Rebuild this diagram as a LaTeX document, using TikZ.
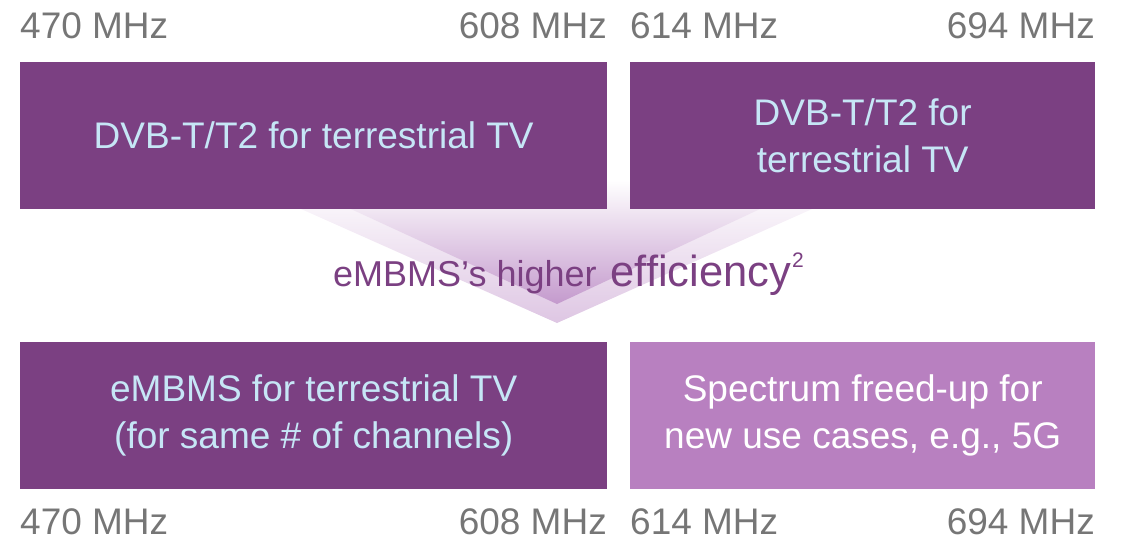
\documentclass[tikz,border=0pt]{standalone}
\usepackage{fontspec}
\setmainfont{Liberation Sans}
\definecolor{plum}{RGB}{123,64,130}
\definecolor{orchid}{RGB}{184,128,192}
\definecolor{paleblue}{RGB}{198,230,246}
\definecolor{freqgray}{RGB}{118,118,118}
\definecolor{shadeout}{RGB}{222,198,227}
\definecolor{shadein}{RGB}{196,154,205}
\begin{document}
\begin{tikzpicture}[x=1pt,y=-1pt,
  band/.style={rectangle, inner sep=0pt, anchor=north west},
  bandtext/.style={align=center, font=\fontsize{37}{47}\selectfont},
  freq/.style={text=freqgray, inner sep=0pt, font=\fontsize{37}{44}\selectfont}]
\useasboundingbox (0,0) rectangle (1122,541);

% transition chevron (two stacked shaded triangles)
\shade[top color=white, bottom color=shadeout]
  (236,180) -- (877,180) -- (557,323) -- cycle;
\shade[top color=white, bottom color=shadein]
  (288,180) -- (822,180) -- (557,304) -- cycle;

% spectrum bands
\node[band, fill=plum, minimum width=587pt, minimum height=147pt] (tl) at (20,62) {};
\node[band, fill=plum, minimum width=465pt, minimum height=147pt] (tr) at (630,62) {};
\node[band, fill=plum, minimum width=587pt, minimum height=147pt] (bl) at (20,342) {};
\node[band, fill=orchid, minimum width=465pt, minimum height=147pt] (br) at (630,342) {};

\node[bandtext, text=paleblue] (tlt) at (tl.center) {DVB-T/T2 for terrestrial TV};
\node[bandtext, text=paleblue] (trt) at (tr.center) {DVB-T/T2 for\\terrestrial TV};
\node[bandtext, text=paleblue] (blt) at (bl.center) {eMBMS for terrestrial TV\\(for same \# of channels)};
\node[bandtext, text=white] (brt) at (br.center) {Spectrum freed-up for\\new use cases, e.g., 5G};

% frequency limits
\node[freq, anchor=base west] (f1) at (20,38) {470 MHz};
\node[freq, anchor=base east] (f2) at (607,38) {608 MHz};
\node[freq, anchor=base west] (f3) at (630,38) {614 MHz};
\node[freq, anchor=base east] (f4) at (1095,38) {694 MHz};
\node[freq, anchor=base west] (g1) at (20,534) {470 MHz};
\node[freq, anchor=base east] (g2) at (607,534) {608 MHz};
\node[freq, anchor=base west] (g3) at (630,534) {614 MHz};
\node[freq, anchor=base east] (g4) at (1095,534) {694 MHz};

% caption of the transition
\node[text=plum, inner sep=0pt, anchor=base west] (gain) at (333,286)
  {\fontsize{36}{40}\selectfont eMBMS’s higher\hspace{4pt}
   \fontsize{43.5}{46}\selectfont efficiency\hspace{1pt}\raisebox{19pt}{\fontsize{21}{22}\selectfont 2}};
\end{tikzpicture}
\end{document}
